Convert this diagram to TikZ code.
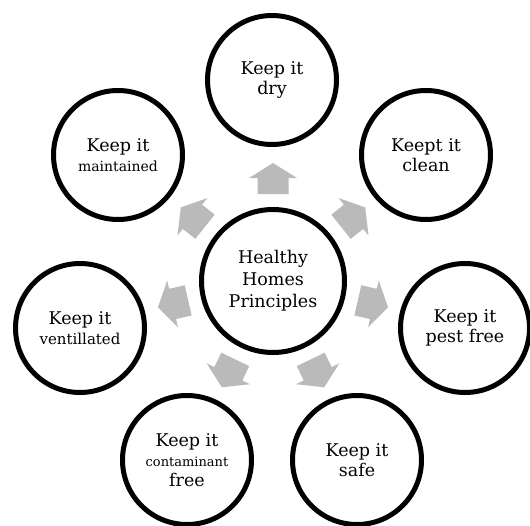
\documentclass[tikz,border=0pt]{standalone}
\usepackage{fontspec}
\setmainfont{DejaVu Serif}
\definecolor{arrgray}{RGB}{186,186,186}
\begin{document}
\begin{tikzpicture}[x=1pt,y=-1pt,
  circ/.style={circle,draw=black,line width=5pt,minimum size=129pt,inner sep=0pt,align=center,
    font=\fontsize{17.5}{20}\selectfont},
  hub/.style={circle,draw=black,line width=5pt,minimum size=143pt,inner sep=0pt,align=center,
    font=\fontsize{17.5}{22}\selectfont}
]
\useasboundingbox (0,0) rectangle (530,525);
\coordinate (c) at (273,281);
% arrows
\foreach \a in {90,38.57,-12.86,-64.29,-115.71,-167.14,141.43}{
  \begin{scope}[shift={(c)},rotate=\a]
    \fill[arrgray] (87,-15.5) -- (103,-15.5) -- (103,-24) -- (118,0) -- (103,24) -- (103,15.5) -- (87,15.5) -- cycle;
  \end{scope}
}
\node[hub] (hub) at (c) {Healthy\\Homes\\Principles};
\node[circ] (dry) at (272,80) {Keep it\\dry};
\node[circ] (clean) at (426,155) {Keept it\\clean};
\node[circ] (pest) at (465,328) {Keep it\\pest free};
\node[circ] (safe) at (357,460) {Keep it\\safe};
\node[circ] (cont) at (187,460) {Keep it\\{\fontsize{13}{17}\selectfont contaminant}\\free};
\node[circ] (vent) at (80,328) {Keep it\\{\fontsize{15}{18}\selectfont ventillated}};
\node[circ] (maint) at (118,155) {Keep it\\{\fontsize{14}{17}\selectfont maintained}};
\end{tikzpicture}
\end{document}
